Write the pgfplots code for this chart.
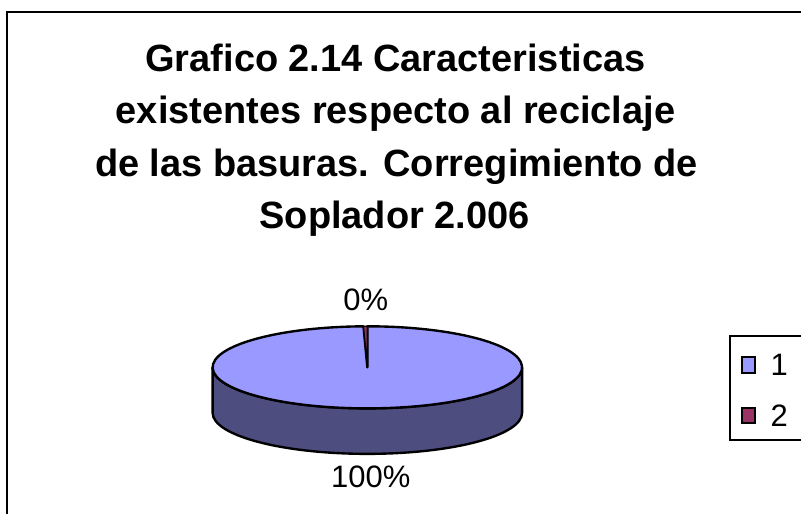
\documentclass[border=0pt]{standalone}
\usepackage{fontspec}
\setmainfont{Liberation Sans}
\usepackage{pgfplots}
\usepackage{pgfplotstable}
\pgfplotsset{compat=1.18}
\definecolor{sliceA}{HTML}{9999FF}
\definecolor{sliceAside}{HTML}{4D4D80}
\definecolor{sliceB}{HTML}{993366}

\pgfplotstableread{
slice value
1 99.6
2 0.4
}\piedata

\begin{document}
\begin{tikzpicture}
\pgfplotstablegetelem{1}{value}\of\piedata
\pgfmathsetmacro\angB{90+3.6*\pgfplotsretval}
\begin{axis}[x=0.75pt,y=0.75pt,xmin=0,xmax=802,ymin=0,ymax=515,
  hide axis,clip=false,scale only axis]
\path (axis cs:0,0) rectangle (axis cs:802,515);
% chart frame
\draw[line width=1.6pt] (axis cs:7,-5) -- (axis cs:7,503) -- (axis cs:810,503);
% title
\begin{scope}[font=\fontsize{28.8}{34}\selectfont\bfseries]
\node[anchor=base] at (axis cs:400,442.7) {Grafico 2.14 Caracteristicas};
\node[anchor=base] at (axis cs:400,389.7) {existentes respecto al reciclaje};
\node[anchor=base] at (axis cs:401,336.7) {de las basuras. Corregimiento de};
\node[anchor=base] at (axis cs:399,283.7) {Soplador 2.006};
\end{scope}
% pie side
\filldraw[fill=sliceAside, draw=black, line width=1.8pt, line join=round]
  (axis cs:215,143.5) arc[start angle=180, end angle=360, x radius=117.375pt, y radius=31.125pt]
  -- ++(0,-34.5pt) arc[start angle=360, end angle=180, x radius=117.375pt, y radius=31.125pt] -- cycle;
% slice 1 top
\filldraw[fill=sliceA, draw=black, line width=1.8pt, line join=round]
  (axis cs:371.5,143.5) -- ++(\angB:117.375pt and 31.125pt)
  arc[start angle=\angB, end angle=450, x radius=117.375pt, y radius=31.125pt] -- cycle;
% slice 2 top
\filldraw[fill=sliceB, draw=black, line width=1pt, line join=round]
  (axis cs:371.5,143.5) -- ++(90:117.375pt and 31.125pt)
  arc[start angle=90, end angle=\angB, x radius=117.375pt, y radius=31.125pt] -- cycle;
% data labels
\begin{scope}[font=\fontsize{23.5}{28}\selectfont]
\node[anchor=base] at (axis cs:370,201) {0\%};
\node[anchor=base] at (axis cs:375,22) {100\%};
% legend
\draw[line width=1.5pt] (axis cs:810,175) -- (axis cs:738,175) -- (axis cs:738,70) -- (axis cs:810,70);
\filldraw[fill=sliceA, draw=black, line width=1.5pt] (axis cs:750,138) rectangle (axis cs:764,154);
\filldraw[fill=sliceB, draw=black, line width=1.5pt] (axis cs:750,87) rectangle (axis cs:764,102);
\node[anchor=base west, inner sep=0pt] at (axis cs:779,135) {1};
\node[anchor=base west, inner sep=0pt] at (axis cs:779,84) {2};
\end{scope}
\end{axis}
\end{tikzpicture}
\end{document}
